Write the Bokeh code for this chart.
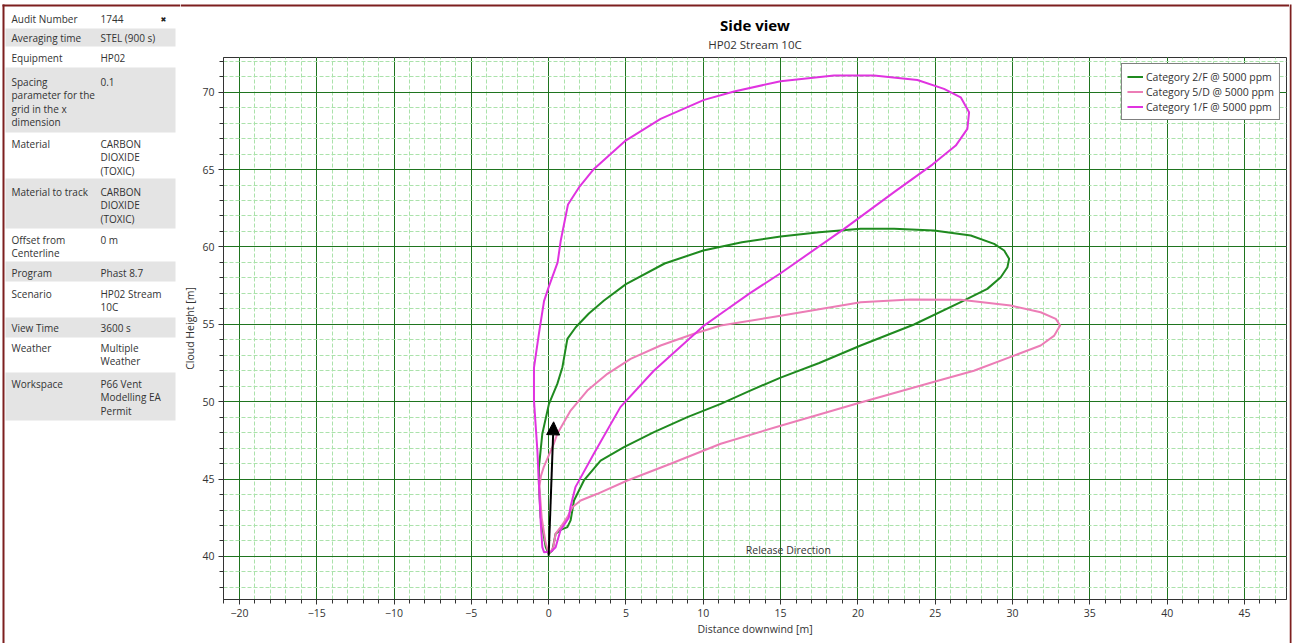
from bokeh.plotting import figure
from bokeh.layouts import row, column
from bokeh.models import SingleIntervalTicker, Range1d, Arrow, NormalHead, Label
from bokeh.core.properties import value
from bokeh.embed import file_html
from bokeh.resources import INLINE

# ---------------- data ----------------
green_x = [0.0, -0.19, -0.52, -0.63, -0.63, -0.41, 0.02, 0.56, 0.89, 1.21, 1.75, 2.6, 3.58,
           5.0, 7.5, 10.0, 12.5, 15.0, 17.5, 20.18, 22.34, 24.92, 27.3, 28.81, 29.46, 29.78,
           29.67, 29.24, 28.37, 26.65, 23.63, 20.18, 17.5, 15.0, 13.0, 11.13, 8.97, 6.81,
           4.87, 3.36, 2.28, 1.64, 1.42, 1.21, 0.78, 0.45, 0.24, 0.0]
green_y = [40.17, 40.6, 42.54, 44.7, 45.77, 47.93, 49.86, 51.15, 52.23, 54.06, 54.81, 55.7,
           56.54, 57.6, 58.93, 59.77, 60.3, 60.67, 60.95, 61.17, 61.17, 61.06, 60.74, 60.2,
           59.77, 59.23, 58.69, 58.04, 57.29, 56.43, 54.99, 53.63, 52.5, 51.56, 50.7, 49.86,
           49.0, 48.03, 47.06, 46.2, 44.91, 43.62, 42.33, 41.9, 41.72, 41.47, 40.39, 40.17]

pink_x = [0.0, -0.2, -0.45, -0.6, -0.5, -0.32, 0.33, 0.56, 1.42, 2.5, 3.8, 5.3, 7.24, 9.4,
          11.13, 15.0, 20.18, 23.4, 26.65, 29.88, 31.82, 32.8, 33.08, 32.7, 31.82, 30.1, 27.5,
          25.0, 20.0, 15.0, 11.13, 7.89, 5.09, 3.15, 2.07, 1.53, 1.21, 0.78, 0.45, 0.3, 0.1]
pink_y = [40.2, 40.9, 42.5, 44.5, 45.2, 45.77, 47.28, 47.93, 49.43, 50.72, 51.8, 52.77, 53.63,
          54.39, 54.92, 55.55, 56.43, 56.6, 56.58, 56.21, 55.78, 55.35, 54.92, 54.27, 53.63,
          52.98, 52.0, 51.3, 49.9, 48.45, 47.28, 45.99, 44.91, 44.05, 43.62, 43.18, 42.54,
          41.9, 41.47, 40.6, 40.25]

mag_x = [0.0, -0.3, -0.41, -0.52, -0.73, -0.95, -0.95, -0.63, -0.3, 0.0, 0.58, 0.78, 1.25,
         2.0, 2.93, 4.98, 7.24, 10.05, 11.99, 15.0, 18.45, 21.04, 23.85, 25.57, 26.65, 27.19,
         27.08, 26.33, 24.82, 22.34, 19.11, 15.0, 13.0, 11.13, 10.05, 6.8, 4.64, 2.92, 1.73,
         1.41, 1.3, 0.76, 0.45, 0.13]
mag_y = [40.3, 40.28, 40.6, 42.3, 46.85, 50.08, 52.2, 54.4, 56.5, 57.4, 59.0, 60.4, 62.74,
         63.9, 65.04, 66.87, 68.27, 69.5, 70.04, 70.71, 71.07, 71.07, 70.79, 70.21, 69.67,
         68.7, 67.63, 66.55, 65.32, 63.54, 61.17, 58.3, 57.0, 55.68, 54.92, 52.0, 49.65,
         46.63, 44.48, 43.19, 42.5, 41.68, 40.6, 40.28]

series_names = ["Category 2/F @ 5000 ppm", "Category 5/D @ 5000 ppm", "Category 1/F @ 5000 ppm"]

arrow_start = [0.0, 40.05]
arrow_end = [0.32, 48.7]
release_label_pos = [15.5, 40.45]

title_text = "Side view"
subtitle_text = "HP02 Stream 10C"

info_labels = ["Audit Number", "Averaging time", "Equipment",
               "Spacing\nparameter for the\ngrid in the x\ndimension",
               "Material", "Material to track", "Offset from\nCenterline", "Program",
               "Scenario", "View Time", "Weather", "Workspace"]
info_values = ["1744", "STEL (900 s)", "HP02", "0.1", "CARBON\nDIOXIDE\n(TOXIC)",
               "CARBON\nDIOXIDE\n(TOXIC)", "0 m", "Phast 8.7", "HP02 Stream\n10C", "3600 s",
               "Multiple\nWeather", "P66 Vent\nModelling EA\nPermit"]

# ---------------- layout constants ----------------
H = 643
LEFT_W = 180
RIGHT_W = 3
MID_W = 1292 - LEFT_W - RIGHT_W   # 1109
TOP_H = 52
FONT = "Open Sans"
TXT = "#333333"
BORDER = "#7d1f1f"


def blank(width, height, x0, x1, y0, y1):
    f = figure(width=width, height=height, output_backend="svg", toolbar_location=None,
               x_range=Range1d(x0, x1), y_range=Range1d(y1, y0),
               min_border=0, min_border_left=0, min_border_right=0,
               min_border_top=0, min_border_bottom=0)
    f.axis.visible = False
    f.grid.visible = False
    f.outline_line_color = None
    f.background_fill_color = "white"
    f.border_fill_color = "white"
    f.frame_align = False
    return f


# ---------------- left info panel ----------------
left = blank(LEFT_W, H, 0, LEFT_W, 0, H)
row_tops = [8, 28, 46, 67, 132, 178, 228, 261, 281, 317, 337, 372]
row_bots = [28, 46, 67, 132, 178, 228, 261, 281, 317, 337, 372, 420]
first_line = [18, 37, 57, 81, 143, 191, 239, 272, 293, 327, 347, 383]
LINE = 13.5
gray_top = [row_tops[i] for i in range(len(row_tops)) if i % 2 == 1]
gray_bot = [row_bots[i] for i in range(len(row_bots)) if i % 2 == 1]
left.quad(left=5, right=175, top=gray_top, bottom=gray_bot, fill_color="#e4e4e4",
          line_color=None)
tx, ty, tt = [], [], []
for i in range(len(info_labels)):
    for col_x, txt in ((11, info_labels[i]), (100, info_values[i])):
        for k, line in enumerate(txt.split("\n")):
            tx.append(col_x)
            ty.append(first_line[i] + k * LINE)
            tt.append(line)
left.text(x=tx, y=ty, text=tt, text_baseline="middle", text_font=value(FONT),
          text_font_size="10px", text_color=TXT)
left.text(x=[163], y=[19], text=["\u2716"], text_align="center", text_baseline="middle",
          text_font=value("DejaVu Sans"), text_font_size="7px", text_color="#222222")
left.quad(left=[2, 2], right=[LEFT_W, 4], top=[4, 4], bottom=[6, H], fill_color=BORDER,
          line_color=None)

# ---------------- top strip with titles ----------------
top = blank(MID_W, TOP_H, LEFT_W, LEFT_W + MID_W, 0, TOP_H)
top.quad(left=[LEFT_W], right=[LEFT_W + MID_W], top=[4], bottom=[6], fill_color=BORDER,
         line_color=None)
top.text(x=[754.5], y=[24], text=[title_text], text_align="center", text_baseline="middle",
         text_font=value(FONT), text_font_size="15px", text_font_style="bold",
         text_color="black")
top.text(x=[754.5], y=[44], text=[subtitle_text], text_align="center",
         text_baseline="middle", text_font=value(FONT), text_font_size="11.5px",
         text_color=TXT)

# ---------------- right border strip ----------------
right = blank(RIGHT_W, H, 0, RIGHT_W, 0, H)
right.quad(left=[0], right=[2], top=[4], bottom=[H], fill_color=BORDER, line_color=None)

# ---------------- main chart ----------------
p = figure(width=MID_W, height=H - TOP_H, output_backend="svg", toolbar_location=None,
           x_range=Range1d(-21.03, 47.72), y_range=Range1d(37.22, 72.24),
           min_border_left=223 - LEFT_W, min_border_right=LEFT_W + MID_W - 1286,
           min_border_top=57 - TOP_H, min_border_bottom=44)
p.background_fill_color = "white"
p.border_fill_color = "white"
p.outline_line_color = "#333333"
p.outline_line_width = 1
p.frame_align = False

xt = SingleIntervalTicker(interval=5, num_minor_ticks=5)
yt = SingleIntervalTicker(interval=5, num_minor_ticks=5)
p.xaxis.ticker = xt
p.yaxis.ticker = yt
p.xgrid.ticker = xt
p.ygrid.ticker = yt

for g in (p.xgrid, p.ygrid):
    g.grid_line_color = "#1f741f"
    g.grid_line_width = 1
    g.grid_line_alpha = 1
    g.minor_grid_line_color = "#abe2ab"
    g.minor_grid_line_dash = "4 2"
    g.minor_grid_line_width = 1

p.xaxis.axis_label = "Distance downwind [m]"
p.yaxis.axis_label = "Cloud Height [m]"
for ax in (p.xaxis, p.yaxis):
    ax.axis_line_color = "#333333"
    ax.major_tick_line_color = "#333333"
    ax.minor_tick_line_color = "#333333"
    ax.major_tick_out = 5
    ax.major_tick_in = 0
    ax.minor_tick_out = 4
    ax.minor_tick_in = 0
    ax.major_label_text_font = FONT
    ax.major_label_text_font_size = "10.5px"
    ax.major_label_text_color = TXT
    ax.axis_label_text_font = FONT
    ax.axis_label_text_font_size = "10.5px"
    ax.axis_label_text_font_style = "normal"
    ax.axis_label_text_color = TXT
    ax.major_label_standoff = 4
    ax.axis_label_standoff = 2

colors = ["#1f8a1f", "#ec7db6", "#e033e0"]
for xs, ys, name, c in zip([green_x, pink_x, mag_x], [green_y, pink_y, mag_y], series_names,
                           colors):
    p.line(xs, ys, line_color=c, line_width=2, legend_label=name, line_join="round")

lg = p.legend[0]
lg.location = "top_right"
lg.margin = 6
lg.padding = 5
lg.spacing = 0
lg.label_text_font = FONT
lg.label_text_font_size = "10.5px"
lg.label_text_color = TXT
lg.label_height = 15
lg.glyph_height = 15
lg.glyph_width = 16
lg.label_standoff = 3
lg.border_line_color = "black"
lg.border_line_width = 1
lg.background_fill_alpha = 1

p.add_layout(Arrow(end=NormalHead(size=13, fill_color="black", line_color="black"),
                   x_start=arrow_start[0], y_start=arrow_start[1],
                   x_end=arrow_end[0], y_end=arrow_end[1],
                   line_color="black", line_width=2))
p.add_layout(Label(x=release_label_pos[0], y=release_label_pos[1], text="Release Direction",
                   text_align="center", text_baseline="middle", text_font=FONT,
                   text_font_size="10.5px", text_color=TXT))

layout = row(left, column(top, p, spacing=0), right, spacing=0)

open("out.html", "w").write(file_html(layout, INLINE))
